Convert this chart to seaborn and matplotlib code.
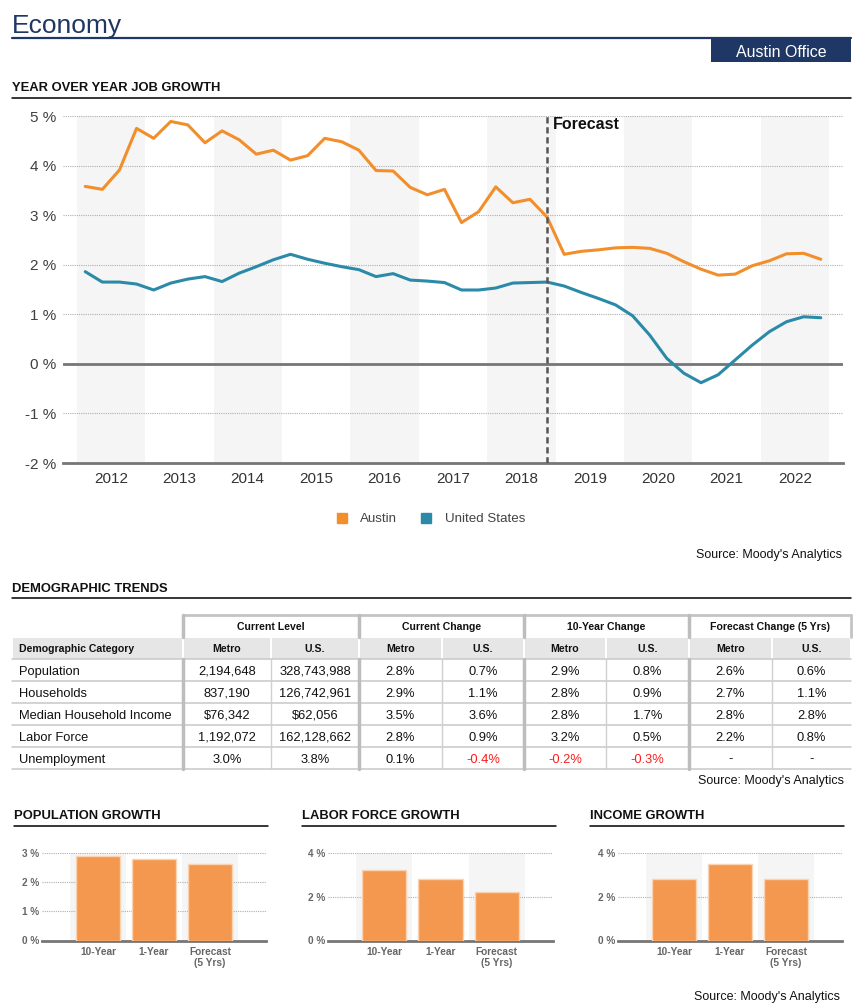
import numpy as np
import pandas as pd
import matplotlib
matplotlib.use('Agg')
import matplotlib.pyplot as plt
import seaborn as sns
from matplotlib.patches import Patch, Rectangle

# ---- data ----
years = list(range(2012, 2023))

austin_growth = [3.58, 3.52, 3.91, 4.75, 4.55, 4.89, 4.82, 4.46, 4.70, 4.52, 4.23, 4.31,
                 4.11, 4.20, 4.55, 4.48, 4.31, 3.90, 3.89, 3.56, 3.41, 3.52, 2.85, 3.07,
                 3.57, 3.25, 3.32, 2.96, 2.21, 2.27, 2.30, 2.34, 2.35, 2.33, 2.23, 2.06,
                 1.91, 1.79, 1.81, 1.98, 2.08, 2.22, 2.23, 2.11]
us_growth = [1.86, 1.65, 1.65, 1.61, 1.49, 1.63, 1.71, 1.76, 1.66, 1.83, 1.96, 2.10,
             2.21, 2.11, 2.03, 1.96, 1.90, 1.76, 1.82, 1.69, 1.67, 1.64, 1.49, 1.49,
             1.53, 1.63, 1.64, 1.65, 1.57, 1.44, 1.32, 1.19, 0.97, 0.58, 0.11, -0.19,
             -0.38, -0.22, 0.08, 0.38, 0.65, 0.85, 0.95, 0.93]
forecast_start = 2018.875

categories = ['Population', 'Households', 'Median Household Income', 'Labor Force', 'Unemployment']
cur_metro = ['2,194,648', '837,190', '$76,342', '1,192,072', '3.0%']
cur_us = ['328,743,988', '126,742,961', '$62,056', '162,128,662', '3.8%']
chg_metro = ['2.8%', '2.9%', '3.5%', '2.8%', '0.1%']
chg_us = ['0.7%', '1.1%', '3.6%', '0.9%', '-0.4%']
ten_metro = ['2.9%', '2.8%', '2.8%', '3.2%', '-0.2%']
ten_us = ['0.8%', '0.9%', '1.7%', '0.5%', '-0.3%']
fc_metro = ['2.6%', '2.7%', '2.8%', '2.2%', '-']
fc_us = ['0.6%', '1.1%', '2.8%', '0.8%', '-']
groups = ['Current Level', 'Current Change', '10-Year Change', 'Forecast Change (5 Yrs)']

bar_labels = ['10-Year', '1-Year', 'Forecast\n(5 Yrs)']
pop_growth = [2.9, 2.8, 2.6]
labor_growth = [3.2, 2.8, 2.2]
income_growth = [2.8, 3.5, 2.8]

# ---- style ----
NAVY = '#1F3765'
ORANGE = '#F28E2B'
TEAL = '#2A8AA8'
BAR = '#F4984F'
BAND = '#F5F5F5'
GRID = '#AFAFAF'
AXIS = '#767676'

sns.set_style('white')
plt.rcParams['font.family'] = ['Liberation Sans', 'DejaVu Sans']

W, H = 860, 1005
fig = plt.figure(figsize=(W / 100, H / 100), dpi=100)


def px_axes(l, t, r, b):
    return fig.add_axes([l / W, 1 - b / H, (r - l) / W, (b - t) / H])


ov = fig.add_axes([0, 0, 1, 1])
ov.set_xlim(0, W)
ov.set_ylim(H, 0)
ov.axis('off')

# page header
ov.text(12, 33, 'Economy', fontsize=19, color=NAVY, va='baseline')
ov.plot([12, 851], [37.5, 37.5], color=NAVY, lw=1.6)
ov.add_patch(Rectangle((711, 39), 140, 23, color=NAVY, lw=0))
ov.text(781, 50.5, 'Austin Office', color='white', fontsize=11.5, ha='center', va='center_baseline')


def section(x0, x1, y_text, y_line, label):
    ov.text(x0, y_text, label, fontweight='bold', fontsize=9.4, va='center_baseline', color='#111')
    ov.plot([x0, x1], [y_line, y_line], color='black', lw=1.1)


section(12, 851, 86, 98, 'YEAR OVER YEAR JOB GROWTH')
section(12, 851, 587, 598, 'DEMOGRAPHIC TRENDS')

# ---- main line chart ----
quarters = [y + (q + 0.5) / 4 for y in years for q in range(4)]
df = pd.DataFrame({
    't': quarters * 2,
    'growth': austin_growth + us_growth,
    'region': ['Austin'] * len(quarters) + ['United States'] * len(quarters),
})

ax = px_axes(63, 116, 843, 463)
for yr in years[::2]:
    ax.axvspan(yr, yr + 1, color=BAND, lw=0, zorder=0)
for v in [-1, 1, 2, 3, 4, 5]:
    ax.axhline(v, color=GRID, lw=0.8, ls=(0, (1, 1)), zorder=1)
ax.axhline(0, color=AXIS, lw=2, zorder=2)

sns.lineplot(data=df, x='t', y='growth', hue='region',
             palette={'Austin': ORANGE, 'United States': TEAL},
             lw=2.2, legend=False, ax=ax, zorder=3)

ax.axvline(forecast_start, color='#555555', lw=1.8, ls=(0, (2.5, 1.5)), zorder=4)
ax.annotate('Forecast', xy=(forecast_start, 5), xytext=(4, -1), textcoords='offset points',
            fontweight='bold', fontsize=11.5, va='top', ha='left', color='#111')

ax.set_xlim(2011.8, 2023.2)
ax.set_ylim(-2, 5)
ax.set_yticks(range(-2, 6))
ax.set_yticklabels([f'{v} %' for v in range(-2, 6)])
ax.tick_params(axis='y', length=0, pad=5, labelsize=11, labelcolor='#404040')
ax.set_xticks(list(range(2012, 2024)))
ax.set_xticklabels([])
ax.set_xticks([y + k / 4 for y in years for k in (1, 2, 3)], minor=True)
ax.tick_params(axis='x', which='major', direction='inout', length=9, width=2, color='#666666')
ax.tick_params(axis='x', which='minor', direction='in', length=4.5, width=1.2, color='#666666')
for yr in years:
    ax.annotate(str(yr), xy=(yr + 0.5, 0), xycoords=('data', 'axes fraction'),
                xytext=(0, -6.5), textcoords='offset points', ha='center', va='top',
                fontsize=11, color='#333333')
for s in ['top', 'right', 'left']:
    ax.spines[s].set_visible(False)
ax.spines['bottom'].set_color(AXIS)
ax.spines['bottom'].set_linewidth(2)
ax.set_xlabel('')
ax.set_ylabel('')

fig.legend(handles=[Patch(color=ORANGE), Patch(color=TEAL)], labels=['Austin', 'United States'],
           loc='center', bbox_to_anchor=(431 / W, 1 - 519 / H), ncol=2, frameon=False,
           handlelength=0.75, handleheight=0.75, handletextpad=1.0, columnspacing=1.8,
           fontsize=9.6, labelcolor='#444444')

ov.text(842, 553, "Source: Moody's Analytics", fontsize=9, ha='right', va='center_baseline', color='#111')

# ---- table ----
col_edges = [12, 183, 271, 359, 442, 524, 606, 689, 772, 851]
columns = [cur_metro, cur_us, chg_metro, chg_us, ten_metro, ten_us, fc_metro, fc_us]
top, grp_bot, head_bot, row_h = 615, 637, 659, 22

for i in range(len(col_edges) - 1):
    ov.add_patch(Rectangle((col_edges[i] + 1, grp_bot + 1), col_edges[i + 1] - col_edges[i] - 2,
                           head_bot - grp_bot - 1, color='#E6E6E6', lw=0))
for g, name in enumerate(groups):
    cx = (col_edges[1 + 2 * g] + col_edges[3 + 2 * g]) / 2
    ov.text(cx, (top + grp_bot) / 2, name, fontweight='bold', fontsize=7.6,
            ha='center', va='center_baseline', color='#111')
ov.text(19, (grp_bot + head_bot) / 2, 'Demographic Category', fontweight='bold', fontsize=7.6,
        va='center_baseline', color='#111')
for j in range(len(columns)):
    cx = (col_edges[j + 1] + col_edges[j + 2]) / 2
    ov.text(cx, (grp_bot + head_bot) / 2, ['Metro', 'U.S.'][j % 2], fontweight='bold',
            fontsize=7.6, ha='center', va='center_baseline', color='#111')

for r, cat in enumerate(categories):
    yc = head_bot + row_h * r + row_h / 2
    ov.text(19, yc, cat, fontsize=9.3, va='center_baseline', color='#111')
    for j, col in enumerate(columns):
        val = col[r]
        colr = '#FF1A1A' if val.startswith('-') and len(val) > 1 else '#111'
        cx = (col_edges[j + 1] + col_edges[j + 2]) / 2
        ov.text(cx, yc, val, fontsize=9.3, ha='center', va='center_baseline', color=colr)

bottom = head_bot + row_h * len(categories)
for r in range(len(categories) + 1):
    y = head_bot + row_h * r
    ov.plot([12, 851], [y, y], color='#C8C8C8', lw=1.1)
ov.plot([183, 851], [top, top], color='#C4C4C4', lw=2)
ov.plot([851, 851], [top, grp_bot], color='#C4C4C4', lw=2)
for x in col_edges[1:-1:2]:
    ov.plot([x, x], [top, grp_bot], color='#BDBDBD', lw=2.5)
    ov.plot([x, x], [head_bot, bottom], color='#BDBDBD', lw=2.5)
for x in col_edges[2:-1:2]:
    ov.plot([x, x], [head_bot, bottom], color='#D0D0D0', lw=1)

ov.text(844, 779, "Source: Moody's Analytics", fontsize=9, ha='right', va='center_baseline', color='#111')


# ---- bottom bar charts ----
def growth_chart(l, r, values, yticks, title, tx0, tx1):
    section(tx0, tx1, 814, 826, title)
    bx = px_axes(l, 852.7, r, 940.5)
    for k in (0, 2):
        bx.axvspan(k - 0.5, k + 0.5, color=BAND, lw=0, zorder=0)
    for v in yticks[1:]:
        bx.axhline(v, color=GRID, lw=0.8, ls=(0, (1, 1)), zorder=1)
    sns.barplot(x=bar_labels, y=values, color=BAR, saturation=1, width=0.79,
                edgecolor='#F9D3B2', linewidth=1, ax=bx, zorder=3)
    bx.set_xlim(-1, 3)
    bx.set_ylim(0, yticks[-1])
    bx.set_yticks(yticks)
    bx.set_yticklabels([f'{v} %' for v in yticks])
    bx.tick_params(axis='y', length=0, pad=2, labelsize=7.2, labelcolor='#666666')
    bx.set_xticks([-1, 0, 1, 2, 3])
    bx.set_xticklabels([''] + bar_labels + [''], linespacing=1.1)
    bx.tick_params(axis='x', length=3, width=1.2, color=AXIS, pad=2, labelsize=7.3, labelcolor='#666666')
    for lbl in bx.get_xticklabels() + bx.get_yticklabels():
        lbl.set_fontweight('bold')
    for s in ['top', 'right', 'left']:
        bx.spines[s].set_visible(False)
    bx.spines['bottom'].set_color(AXIS)
    bx.spines['bottom'].set_linewidth(2)
    bx.set_xlabel('')
    bx.set_ylabel('')


growth_chart(42, 266, pop_growth, [0, 1, 2, 3], 'POPULATION GROWTH', 14, 268)
growth_chart(328, 553, labor_growth, [0, 2, 4], 'LABOR FORCE GROWTH', 302, 556)
growth_chart(618, 842, income_growth, [0, 2, 4], 'INCOME GROWTH', 590, 844)

ov.text(840, 995, "Source: Moody's Analytics", fontsize=9, ha='right', va='center_baseline', color='#111')

fig.savefig('out.png', dpi=100)
